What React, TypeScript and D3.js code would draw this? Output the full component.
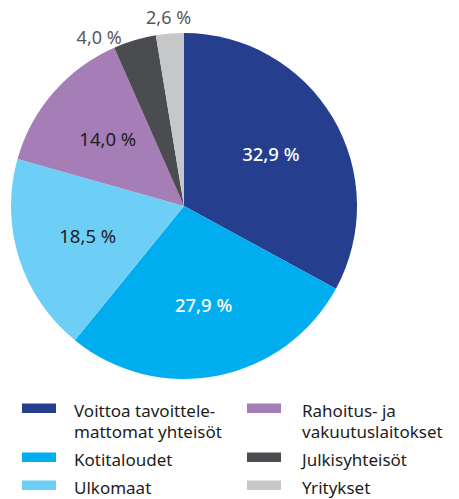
import * as d3 from "d3";
import React from "react";

// pie data, clockwise from 12 o'clock
const categories = [
  "Voittoa tavoittele-\nmattomat yhteisöt",
  "Kotitaloudet",
  "Ulkomaat",
  "Rahoitus- ja\nvakuutuslaitokset",
  "Julkisyhteisöt",
  "Yritykset",
];
const shares = [32.9, 27.9, 18.5, 14.0, 4.0, 2.6];
const valueLabels = ["32,9 %", "27,9 %", "18,5 %", "14,0 %", "4,0 %", "2,6 %"];

const colors = ["#253e8d", "#00aeef", "#6dcff6", "#a57db7", "#4b4c4f", "#c6c7c9"];
const insideTextColors = ["#ffffff", "#ffffff", "#1d1d1b", "#1d1d1b"];

export default class App extends React.Component {
  constructor(props) {
    super(props);
    this.svgRef = React.createRef();
    this.width = 459;
    this.height = 499;
    this.center = { x: 184, y: 206 };
    this.radius = 173;
    this.font = "'Noto Sans', sans-serif";
  }

  componentDidMount() {
    document.body.style.margin = "0";
    const svg = d3.select(this.svgRef.current);
    svg.selectAll("*").remove();
    svg.attr("width", this.width).attr("height", this.height);
    this.draw(svg);
  }

  render() {
    return <svg ref={this.svgRef} style={{ display: "block" }}></svg>;
  }

  draw = (svg) => {
    const pie = d3
      .pie()
      .sort(null)
      .value((d) => d);
    const arcs = pie(shares);

    const arc = d3.arc().innerRadius(0).outerRadius(this.radius);
    const labelArc = d3.arc().innerRadius(101).outerRadius(101);

    const g = svg
      .append("g")
      .attr("transform", `translate(${this.center.x}, ${this.center.y})`);

    g.selectAll("path.slice")
      .data(arcs)
      .join("path")
      .attr("class", "slice")
      .attr("d", arc)
      .attr("fill", (d, i) => colors[i]);

    // labels inside the big slices
    const isSmall = (i) => shares[i] < 5;
    g.selectAll("text.inside")
      .data(arcs.filter((d, i) => !isSmall(i)))
      .join("text")
      .attr("class", "inside")
      .attr("transform", (d) => `translate(${labelArc.centroid(d)})`)
      .attr("text-anchor", "middle")
      .attr("dy", "0.36em")
      .attr("font-family", this.font)
      .attr("font-size", 18.5)
      .attr("font-weight", (d) => (insideTextColors[d.index] === "#ffffff" ? 500 : 400))
      .attr("fill", (d) => insideTextColors[d.index])
      .text((d) => valueLabels[d.index]);

    // labels outside the small slices, pushed apart so they don't collide
    const outerR = 189;
    const minGap = (22 * Math.PI) / 180;
    const outer = arcs
      .filter((d, i) => isSmall(i))
      .map((d) => ({ index: d.index, angle: (d.startAngle + d.endAngle) / 2 }));
    for (let k = outer.length - 2; k >= 0; k--) {
      outer[k].angle = Math.min(outer[k].angle, outer[k + 1].angle - minGap);
    }
    g.selectAll("text.outside")
      .data(outer)
      .join("text")
      .attr("class", "outside")
      .attr("x", (d) => outerR * Math.sin(d.angle))
      .attr("y", (d) => -outerR * Math.cos(d.angle))
      .attr("text-anchor", "middle")
      .attr("dy", "0.36em")
      .attr("font-family", this.font)
      .attr("font-size", 18)
      .attr("fill", "#59595b")
      .text((d) => valueLabels[d.index]);

    // legend: 3 rows x 2 columns, filled column by column
    const rows = 3;
    const colX = [22, 247];
    const textX = [52, 55];
    const swatchW = 34;
    const swatchH = 9.5;
    const lineH = 21;
    const rowStep = 28;
    const legend = svg.append("g");

    let baseline = 417;
    for (let r = 0; r < rows; r++) {
      const idx = [r, r + rows];
      const lines = idx.map((i) => categories[i].split("\n"));
      idx.forEach((i, c) => {
        const item = legend
          .append("g")
          .attr("transform", `translate(${colX[c]}, ${baseline})`);
        item
          .append("rect")
          .attr("y", -13.5)
          .attr("width", swatchW)
          .attr("height", swatchH)
          .attr("fill", colors[i]);
        lines[c].forEach((line, j) => {
          item
            .append("text")
            .attr("x", textX[c])
            .attr("y", j * lineH)
            .attr("font-family", this.font)
            .attr("font-size", 17)
            .attr("fill", "#1d1d1b")
            .text(line);
        });
      });
      const maxLines = d3.max(lines, (l) => l.length);
      baseline += (maxLines - 1) * lineH + rowStep;
    }
  };
}
